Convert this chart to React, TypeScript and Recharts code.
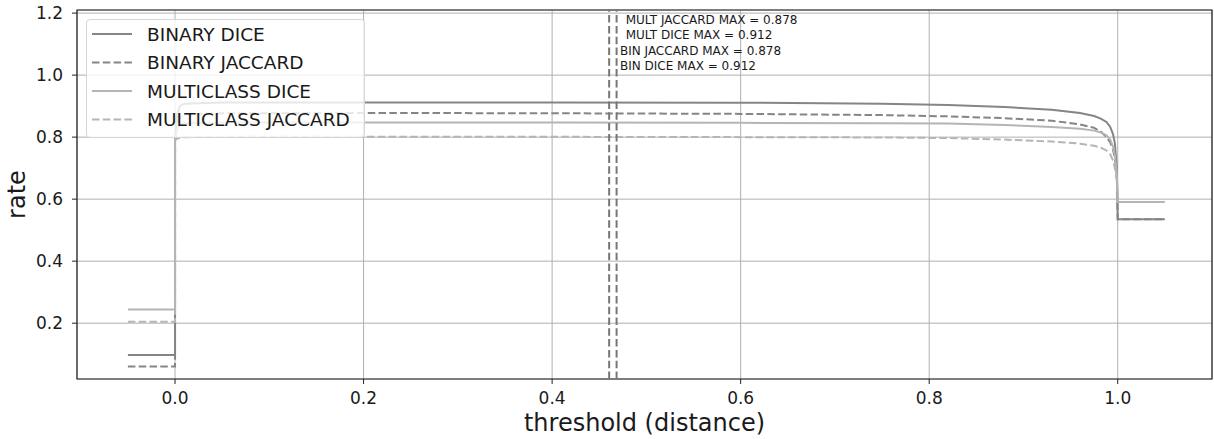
import {
  ComposedChart,
  Line,
  Scatter,
  XAxis,
  YAxis,
  CartesianGrid,
  ReferenceLine,
  ReferenceArea,
  Legend,
} from "recharts";

// thresholds shared by the four curves (step at 0 and at 1.0)
const THRESHOLDS = [
  -0.05, 0, 0, 0.002, 0.005, 0.01, 0.05, 0.2, 0.4, 0.6, 0.75, 0.82, 0.88,
  0.93, 0.96, 0.975, 0.982, 0.988, 0.992, 0.995, 0.997, 0.999, 1.0, 1.05,
];

const BIN_DICE = [
  0.097, 0.097, 0.79, 0.87, 0.9, 0.908, 0.912, 0.912, 0.912, 0.911, 0.908,
  0.904, 0.897, 0.888, 0.878, 0.868, 0.86, 0.849, 0.833, 0.81, 0.78, 0.7,
  0.535, 0.535,
];
const BIN_JACCARD = [
  0.06, 0.06, 0.79, 0.84, 0.865, 0.873, 0.877, 0.878, 0.877, 0.875, 0.871,
  0.867, 0.861, 0.853, 0.841, 0.83, 0.818, 0.8, 0.783, 0.76, 0.73, 0.68,
  0.535, 0.535,
];
const MULT_DICE = [
  0.244, 0.244, 0.79, 0.825, 0.838, 0.844, 0.847, 0.847, 0.847, 0.846, 0.845,
  0.844, 0.839, 0.833, 0.827, 0.821, 0.815, 0.806, 0.792, 0.77, 0.74, 0.68,
  0.591, 0.591,
];
const MULT_JACCARD = [
  0.205, 0.205, 0.79, 0.795, 0.798, 0.8, 0.801, 0.801, 0.801, 0.8, 0.799,
  0.797, 0.792, 0.786, 0.779, 0.772, 0.766, 0.757, 0.745, 0.725, 0.7, 0.66,
  0.591, 0.591,
];

// dashed vertical markers at the best thresholds
const MAX_LINES = [0.4605, 0.4684];

const ANNOT_X = [0.478, 0.478, 0.472, 0.472];
const ANNOT_Y = [1.165, 1.115, 1.065, 1.015];
const ANNOT_TEXT = [
  "MULT JACCARD MAX = 0.878",
  "MULT DICE MAX = 0.912",
  "BIN JACCARD MAX = 0.878",
  "BIN DICE MAX = 0.912",
];

const X_TICKS = [0, 0.2, 0.4, 0.6, 0.8, 1.0];
const Y_TICKS = [0.2, 0.4, 0.6, 0.8, 1.0, 1.2];

const FONT = "'DejaVu Sans', sans-serif";
const BIN_COLOR = "#858585";
const MULT_COLOR = "#b5b5b5";
const DASH = "7.5 3.3";

const toPoints = (values: number[]) =>
  THRESHOLDS.map((x, i) => ({ x, y: values[i] }));

const SERIES = [
  { name: "BINARY DICE", values: BIN_DICE, color: BIN_COLOR, dash: undefined },
  { name: "BINARY JACCARD", values: BIN_JACCARD, color: BIN_COLOR, dash: DASH },
  { name: "MULTICLASS DICE", values: MULT_DICE, color: MULT_COLOR, dash: undefined },
  { name: "MULTICLASS JACCARD", values: MULT_JACCARD, color: MULT_COLOR, dash: DASH },
];

const annotations = ANNOT_TEXT.map((label, i) => ({
  x: ANNOT_X[i],
  y: ANNOT_Y[i],
  label,
}));

function LegendBox() {
  return (
    <div
      style={{
        width: 279,
        height: 119,
        boxSizing: "border-box",
        border: "1px solid #d6d6d6",
        borderRadius: 4,
        background: "rgba(255,255,255,0.8)",
      }}
    >
      <svg width={277} height={117} style={{ display: "block" }}>
        {SERIES.map((s, i) => {
          const y = 14 + i * 28.5;
          return (
            <g key={s.name}>
              <line
                x1={5}
                x2={45}
                y1={y}
                y2={y}
                stroke={s.color}
                strokeWidth={2}
                strokeDasharray={s.dash}
              />
              <text
                x={60}
                y={y}
                dominantBaseline="central"
                fontSize={18.5}
                fontFamily={FONT}
                fill="#1a1a1a"
              >
                {s.name}
              </text>
            </g>
          );
        })}
      </svg>
    </div>
  );
}

const AnnotationText = (props: any) => (
  <text
    x={props.cx}
    y={props.cy}
    fontSize={12}
    fontFamily={FONT}
    fill="#1a1a1a"
  >
    {props.payload.label}
  </text>
);

const YLabel = (props: any) => {
  const vb = props.viewBox;
  const cy = vb.y + vb.height / 2;
  return (
    <text
      x={25}
      y={cy}
      transform={`rotate(-90, 25, ${cy})`}
      textAnchor="middle"
      fontSize={24}
      fontFamily={FONT}
      fill="#1a1a1a"
    >
      rate
    </text>
  );
};

const XLabel = (props: any) => {
  const vb = props.viewBox;
  return (
    <text
      x={vb.x + vb.width / 2}
      y={431}
      textAnchor="middle"
      fontSize={24}
      fontFamily={FONT}
      fill="#1a1a1a"
    >
      threshold (distance)
    </text>
  );
};

export default function App() {
  return (
    <div style={{ position: "absolute", left: 0, top: 0, background: "#fff" }}>
      <ComposedChart
        width={1214}
        height={439}
        margin={{ top: 10, right: 2, bottom: 0, left: 0 }}
      >
        <CartesianGrid stroke="#b0b0b0" strokeWidth={1} />
        <XAxis
          type="number"
          dataKey="x"
          domain={[-0.104, 1.1]}
          allowDataOverflow
          ticks={X_TICKS}
          tickFormatter={(v: number) => v.toFixed(1)}
          height={60}
          tickSize={5}
          tickMargin={8}
          axisLine={false}
          tickLine={{ stroke: "#222" }}
          tick={{ fontSize: 17, fontFamily: FONT, fill: "#1a1a1a" }}
          label={<XLabel />}
        />
        <YAxis
          type="number"
          dataKey="y"
          domain={[0.02, 1.21]}
          allowDataOverflow
          ticks={Y_TICKS}
          tickFormatter={(v: number) => v.toFixed(1)}
          width={77}
          tickSize={5}
          tickMargin={9}
          axisLine={false}
          tickLine={{ stroke: "#222" }}
          tick={{ fontSize: 17, fontFamily: FONT, fill: "#1a1a1a" }}
          label={<YLabel />}
        />
        {SERIES.map((s) => (
          <Line
            key={s.name}
            data={toPoints(s.values)}
            dataKey="y"
            name={s.name}
            type="linear"
            stroke={s.color}
            strokeWidth={2}
            strokeDasharray={s.dash}
            dot={false}
            activeDot={false}
            isAnimationActive={false}
          />
        ))}
        {MAX_LINES.map((x) => (
          <ReferenceLine
            key={x}
            x={x}
            stroke="#777777"
            strokeWidth={2}
            strokeDasharray={DASH}
          />
        ))}
        <Scatter
          data={annotations}
          dataKey="y"
          shape={AnnotationText}
          isAnimationActive={false}
          legendType="none"
        />
        <ReferenceArea
          x1={-0.104}
          x2={1.1}
          y1={0.02}
          y2={1.21}
          fill="none"
          stroke="#222"
          strokeWidth={1.2}
          ifOverflow="visible"
        />
        <Legend
          layout="vertical"
          align="center"
          verticalAlign="middle"
          content={() => <LegendBox />}
          wrapperStyle={{ left: 86, top: 19, width: 279, height: 119 }}
        />
      </ComposedChart>
    </div>
  );
}
